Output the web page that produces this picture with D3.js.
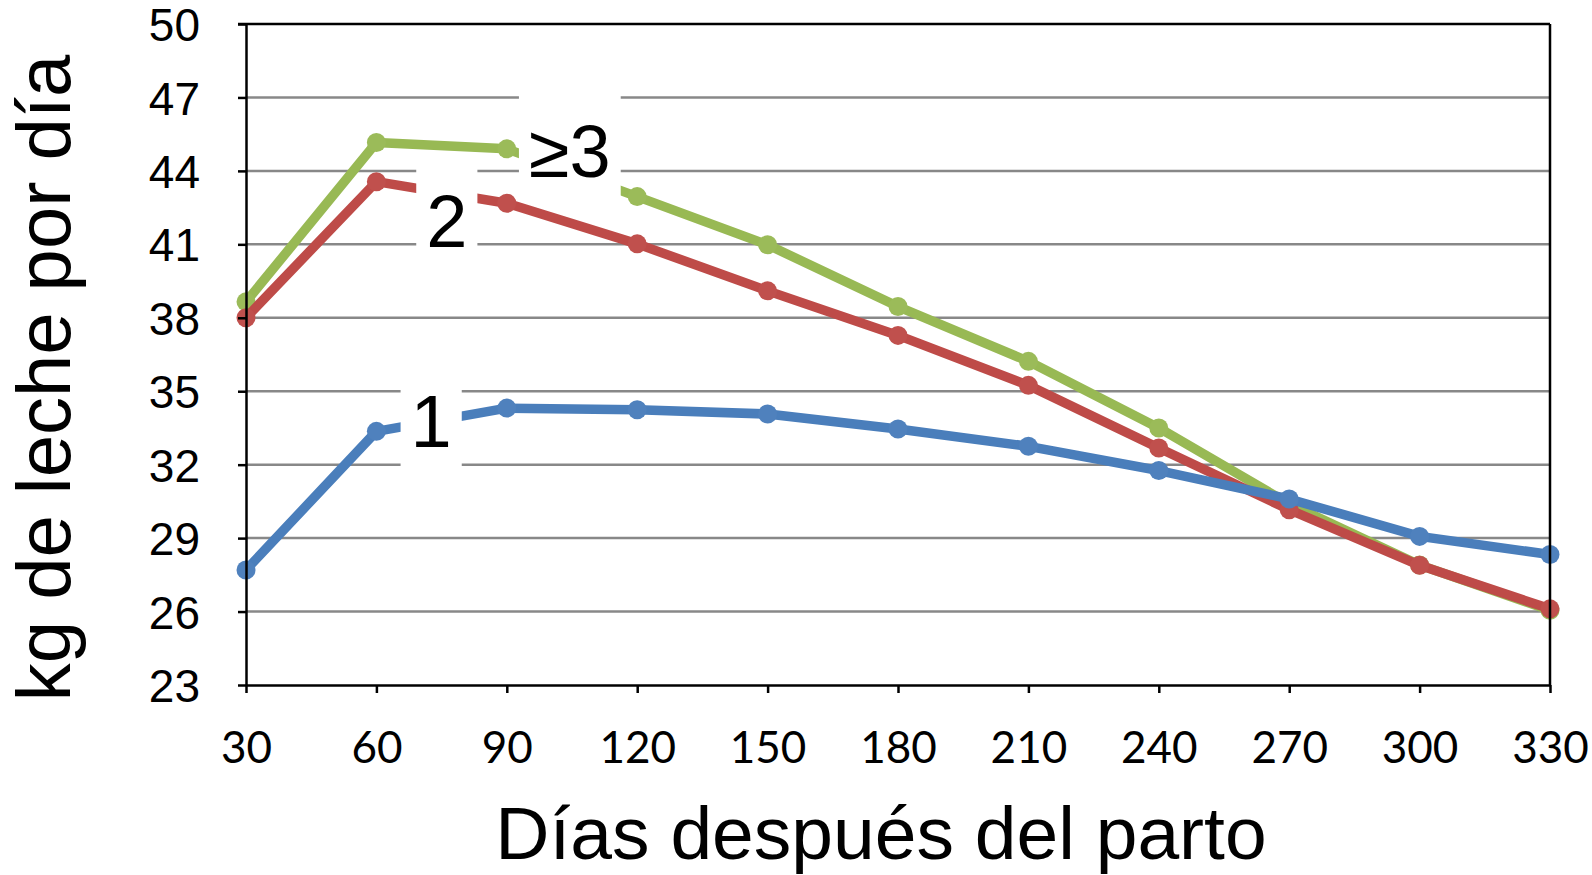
<!DOCTYPE html>
<html>
<head>
<meta charset="utf-8">
<script src="https://cdn.jsdelivr.net/npm/d3@7"></script>
<style>
  html, body { margin: 0; padding: 0; background: #fff; }
  svg { display: block; }
</style>
</head>
<body>
<svg id="chart" width="1592" height="875"></svg>
<script>
// ---- data ----
const days = [30, 60, 90, 120, 150, 180, 210, 240, 270, 300, 330];
const series1 = [27.7, 33.36, 34.31, 34.24, 34.07, 33.46, 32.75, 31.76, 30.6, 29.07, 28.33];
const series2 = [38.0, 43.56, 42.68, 41.02, 39.1, 37.28, 35.24, 32.68, 30.16, 27.89, 26.11];
const series3 = [38.65, 45.16, 44.9, 42.95, 40.98, 38.46, 36.22, 33.5, 30.4, 27.9, 26.05];
const yTicks = [23, 26, 29, 32, 35, 38, 41, 44, 47, 50];
const labelText = ["≥3", "2", "1"];
const labelDay = [104.5, 76.2, 72.6];
const labelValue = [43.76, 40.9, 32.73];
const xTitle = "Días después del parto";
const yTitle = "kg de leche por día";

// ---- layout ----
const svg = d3.select("#chart");
const L = 246, R = 1550, T = 24, B = 685;
const x = d3.scaleLinear().domain([30, 330]).range([L, R]);
const y = d3.scaleLinear().domain([23, 50]).range([B, T]);

const seriesList = [
  { vals: series3, line: "#98B954", fill: "#9BBB59" },
  { vals: series2, line: "#BE4B48", fill: "#C0504D" },
  { vals: series1, line: "#4A7EBB", fill: "#4F81BD" }
];

// gridlines
svg.append("g").selectAll("line")
  .data(yTicks.filter(v => v !== 23 && v !== 50))
  .join("line")
  .attr("x1", L).attr("x2", R)
  .attr("y1", d => y(d)).attr("y2", d => y(d))
  .attr("stroke", "#888").attr("stroke-width", 2.5);

// series
const lineGen = d3.line().x((d, i) => x(days[i])).y(d => y(d));
seriesList.forEach(s => {
  const g = svg.append("g");
  g.append("path").datum(s.vals)
    .attr("d", lineGen)
    .attr("fill", "none")
    .attr("stroke", s.line)
    .attr("stroke-width", 9.5)
    .attr("stroke-linejoin", "round");
  g.selectAll("circle").data(s.vals).join("circle")
    .attr("cx", (d, i) => x(days[i]))
    .attr("cy", d => y(d))
    .attr("r", 9.5)
    .attr("fill", s.fill);
});

// labels with white boxes
const lg = svg.append("g");
labelText.forEach((t, i) => {
  const gg = lg.append("g");
  const rect = gg.append("rect").attr("fill", "#fff");
  const txt = gg.append("text")
    .attr("x", x(labelDay[i]))
    .attr("y", y(labelValue[i]))
    .attr("text-anchor", "middle")
    .attr("font-family", "'Liberation Sans', Arial, sans-serif")
    .attr("font-size", 74)
    .attr("fill", "#000")
    .text(t);
  const bb = txt.node().getBBox();
  rect.attr("x", bb.x - 10).attr("y", bb.y - 18)
    .attr("width", bb.width + 20).attr("height", bb.height + 24);
});

// axes
const axisStroke = 2.5;
const yAxis = d3.axisLeft(y).tickValues(yTicks).tickSize(8).tickPadding(38).tickSizeOuter(0);
const yg = svg.append("g").attr("transform", `translate(${L},0)`).call(yAxis);
yg.select(".domain").attr("stroke", "#000").attr("stroke-width", axisStroke);
yg.selectAll(".tick line").attr("stroke", "#000").attr("stroke-width", axisStroke);
yg.selectAll(".tick text")
  .attr("font-family", "'Liberation Sans', Arial, sans-serif")
  .attr("font-size", 46).attr("fill", "#000").attr("dy", "0.36em");

const xAxis = d3.axisBottom(x).tickValues(days).tickSize(8).tickPadding(0).tickSizeOuter(0).tickFormat(d3.format("d"));
const xg = svg.append("g").attr("transform", `translate(0,${B})`).call(xAxis);
xg.select(".domain").attr("stroke", "#000").attr("stroke-width", axisStroke);
xg.selectAll(".tick line").attr("stroke", "#000").attr("stroke-width", axisStroke);
xg.selectAll(".tick text")
  .attr("font-family", "Lato, 'Open Sans', sans-serif")
  .attr("font-size", 44).attr("fill", "#000")
  .attr("dy", null).attr("y", 78);

// top and right border
svg.append("line").attr("x1", L - 8).attr("x2", R).attr("y1", T).attr("y2", T)
  .attr("stroke", "#000").attr("stroke-width", axisStroke);
svg.append("line").attr("x1", R).attr("x2", R).attr("y1", T).attr("y2", B)
  .attr("stroke", "#000").attr("stroke-width", axisStroke);

// titles
svg.append("text")
  .attr("x", 881).attr("y", 859)
  .attr("text-anchor", "middle")
  .attr("font-family", "'Liberation Sans', Arial, sans-serif")
  .attr("font-size", 75).attr("fill", "#000")
  .text(xTitle);

svg.append("text")
  .attr("transform", "translate(70,378) rotate(-90)")
  .attr("text-anchor", "middle")
  .attr("font-family", "'Liberation Sans', Arial, sans-serif")
  .attr("font-size", 76).attr("fill", "#000")
  .text(yTitle);
</script>
</body>
</html>
